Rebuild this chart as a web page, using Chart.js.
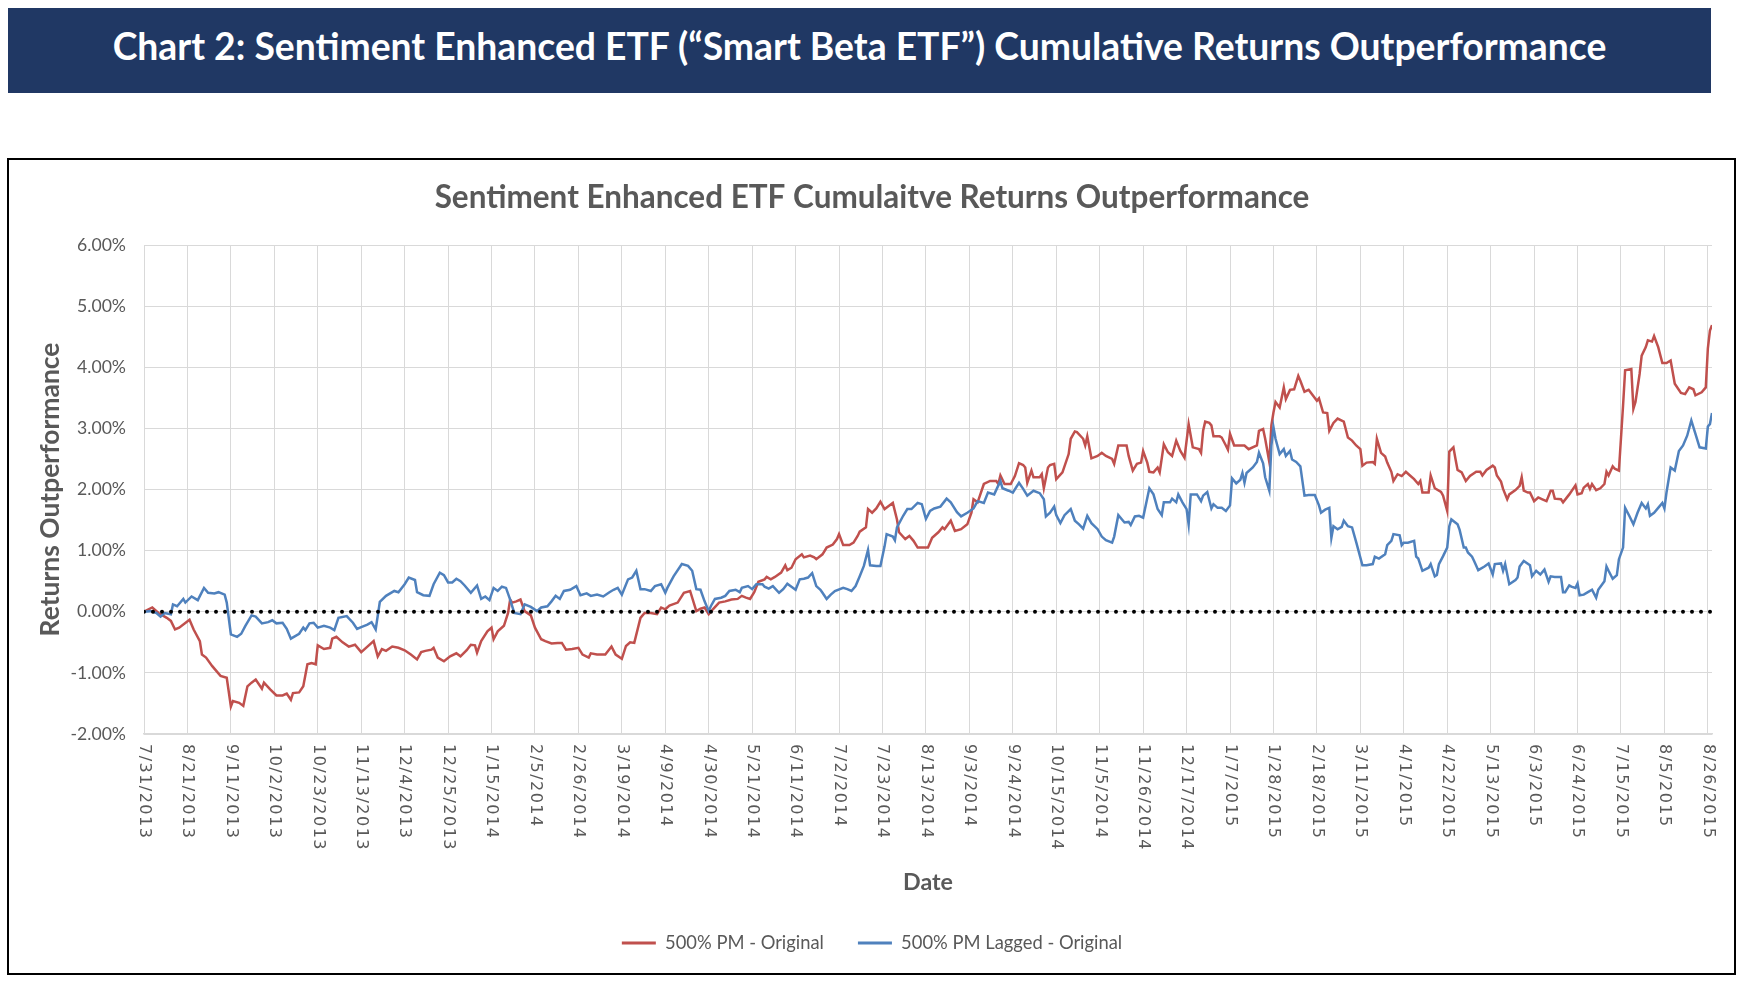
<!DOCTYPE html>
<html>
<head>
<meta charset="utf-8">
<script src="https://cdn.jsdelivr.net/npm/chart.js@4.4.1/dist/chart.umd.min.js"></script>
<style>
html,body{margin:0;padding:0;background:#fff;width:1746px;height:986px;overflow:hidden;}
#banner{position:absolute;left:8px;top:8px;width:1703px;height:85px;background:#203864;display:flex;align-items:center;justify-content:center;}
#bannerText{position:relative;top:-5px;color:#fff;font-family:Lato;font-weight:bold;white-space:nowrap;}
#frame{position:absolute;left:7px;top:158px;width:1725px;height:813px;border:2px solid #000;}
#frame canvas{display:block;}
</style>
</head>
<body>
<div id="banner"><span id="bannerText"></span></div>
<div id="frame"><canvas id="c" width="1725" height="813"></canvas></div>
<script>
// ---------------- data ----------------
const bannerTitle = 'Chart 2: Sentiment Enhanced ETF (\u201CSmart Beta ETF\u201D) Cumulative Returns Outperformance';
const chartTitle = 'Sentiment Enhanced ETF Cumulaitve Returns Outperformance';
const yAxisTitle = 'Returns Outperformance';
const xAxisTitle = 'Date';
const seriesNames = ['500% PM - Original', '500% PM Lagged - Original'];
const startDate = '7/31/2013';
const endDate = '8/28/2015';
const xTickLabels = ['7/31/2013','8/21/2013','9/11/2013','10/2/2013','10/23/2013','11/13/2013','12/4/2013','12/25/2013',
  '1/15/2014','2/5/2014','2/26/2014','3/19/2014','4/9/2014','4/30/2014','5/21/2014','6/11/2014','7/2/2014','7/23/2014',
  '8/13/2014','9/3/2014','9/24/2014','10/15/2014','11/5/2014','11/26/2014','12/17/2014','1/7/2015','1/28/2015',
  '2/18/2015','3/11/2015','4/1/2015','4/22/2015','5/13/2015','6/3/2015','6/24/2015','7/15/2015','8/5/2015','8/26/2015'];
const yMin = -2, yMax = 6, yStep = 1; // percent

// days after start date
const pmOriginalDays = [
  0,4,7,11,13,15,17,22,24,27,
  28,30,33,37,40,42,43,46,48,50,
  52,54,57,58,61,64,67,69,71,72,
  75,77,79,81,83,84,87,90,91,93,
  96,99,102,104,105,108,111,113,115,117,
  120,123,126,129,132,134,136,139,140,142,
  145,148,151,153,156,158,160,161,163,166,
  168,169,171,174,176,177,178,180,182,184,
  187,189,192,194,197,200,202,204,207,210,
  212,215,216,219,223,226,228,231,233,235,
  237,240,242,245,248,250,252,254,258,261,
  264,267,269,271,273,275,278,281,284,287,
  289,291,293,295,297,300,301,303,305,308,
  310,311,313,315,318,319,322,324,325,328,
  330,333,335,336,338,341,343,345,346,349,
  350,352,354,356,358,360,362,364,365,368,
  370,372,374,376,379,381,384,386,387,390,
  392,395,398,400,401,403,406,409,412,413,
  414,416,419,421,423,425,426,427,429,430,
  433,434,435,437,438,440,441,444,447,448,
  450,451,454,455,456,458,461,463,465,468,
  469,471,475,476,478,480,482,483,485,486,
  488,490,491,493,495,497,499,501,503,505,
  507,510,511,512,513,515,516,517,520,521,
  523,524,525,527,532,534,538,539,541,542,
  544,545,546,547,549,551,552,554,556,558,
  559,561,563,565,567,568,570,572,573,575,
  577,580,582,584,586,588,589,591,594,595,
  596,598,600,601,603,604,606,608,610,612,
  614,616,617,618,621,622,624,627,628,630,
  631,633,634,635,637,639,641,644,646,647,
  649,652,653,654,656,657,659,660,663,665,
  666,667,669,670,672,674,676,678,680,681,
  682,685,686,689,692,693,695,696,698,699,
  700,702,704,706,707,708,710,711,713,715,
  716,719,720,721,723,724,726,727,729,730,
  732,734,736,738,740,743,745,747,749,750,
  753,755,756,757,758];
const pmOriginalValues = [
  0,0.07,-0.02,-0.10,-0.15,-0.29,-0.26,-0.13,-0.29,-0.48,
  -0.70,-0.75,-0.89,-1.05,-1.08,-1.55,-1.46,-1.49,-1.54,-1.22,
  -1.16,-1.11,-1.26,-1.16,-1.27,-1.37,-1.37,-1.34,-1.44,-1.33,
  -1.32,-1.22,-0.86,-0.84,-0.86,-0.55,-0.61,-0.59,-0.44,-0.41,
  -0.50,-0.57,-0.54,-0.62,-0.66,-0.57,-0.48,-0.73,-0.61,-0.64,
  -0.57,-0.59,-0.63,-0.70,-0.78,-0.66,-0.64,-0.62,-0.59,-0.75,
  -0.81,-0.73,-0.68,-0.73,-0.63,-0.54,-0.55,-0.67,-0.48,-0.32,
  -0.26,-0.45,-0.32,-0.23,-0.02,0.20,0.15,0.17,0.20,0.01,
  -0.06,-0.26,-0.45,-0.48,-0.52,-0.51,-0.51,-0.62,-0.61,-0.59,
  -0.70,-0.75,-0.68,-0.70,-0.70,-0.57,-0.70,-0.77,-0.56,-0.50,
  -0.51,-0.10,-0.02,-0.02,-0.04,0.07,0.04,0.10,0.15,0.31,
  0.34,0.01,0.05,0.07,-0.04,0.04,0.15,0.17,0.20,0.21,
  0.26,0.23,0.21,0.32,0.49,0.53,0.57,0.53,0.57,0.64,
  0.76,0.68,0.72,0.86,0.94,0.89,0.92,0.89,0.86,0.94,
  1.05,1.10,1.19,1.27,1.09,1.09,1.13,1.24,1.31,1.38,
  1.68,1.62,1.69,1.80,1.68,1.73,1.78,1.51,1.30,1.19,
  1.24,1.16,1.05,1.05,1.05,1.21,1.30,1.38,1.35,1.49,
  1.32,1.35,1.43,1.62,1.84,1.79,2.09,2.14,2.14,2.09,
  2.23,2.09,2.09,2.22,2.43,2.40,2.36,2.11,2.31,2.20,
  2.20,2.25,2.02,2.36,2.40,2.42,2.17,2.28,2.58,2.83,
  2.95,2.94,2.83,2.72,2.87,2.51,2.55,2.60,2.55,2.50,
  2.42,2.72,2.72,2.55,2.31,2.42,2.44,2.63,2.44,2.29,
  2.28,2.36,2.28,2.74,2.61,2.55,2.80,2.63,2.52,3.07,
  2.69,2.66,2.60,2.96,3.11,3.09,3.05,2.87,2.87,2.85,
  2.72,2.65,2.91,2.72,2.72,2.66,2.72,2.96,2.99,2.83,
  2.45,3.05,3.26,3.43,3.34,3.67,3.48,3.63,3.64,3.86,
  3.78,3.60,3.63,3.54,3.45,3.49,3.26,3.25,2.96,3.09,
  3.16,3.11,2.85,2.80,2.72,2.66,2.39,2.44,2.45,2.42,
  2.83,2.60,2.54,2.44,2.29,2.14,2.25,2.22,2.29,2.23,
  2.17,2.09,2.14,1.95,1.95,2.23,2.02,1.96,1.90,1.65,
  2.62,2.69,2.50,2.32,2.28,2.14,2.22,2.29,2.29,2.23,
  2.32,2.39,2.36,2.23,2.13,2.01,1.84,1.92,1.99,2.06,
  2.20,1.98,1.95,1.95,1.81,1.87,1.84,1.81,1.98,1.98,
  1.85,1.84,1.79,1.92,2.07,1.92,1.94,2.03,2.09,2.01,
  2.09,1.99,2.02,2.09,2.29,2.23,2.38,2.34,2.31,3.37,
  3.95,3.97,3.32,3.43,3.89,4.19,4.33,4.44,4.42,4.51,
  4.33,4.07,4.07,4.11,3.73,3.58,3.56,3.67,3.64,3.54,
  3.59,3.67,4.31,4.60,4.69];

const pmLaggedDays = [
  0,3,6,8,10,13,14,16,19,20,
  23,26,29,31,34,36,39,40,42,45,
  47,49,52,54,57,60,62,64,67,69,
  71,75,77,78,80,82,84,87,90,92,
  94,98,101,103,105,108,110,112,114,117,
  121,123,126,128,131,132,135,138,140,143,
  145,147,149,151,153,155,158,161,163,165,
  167,169,171,173,175,177,179,182,184,187,
  190,192,195,197,199,201,203,206,209,211,
  214,216,219,222,225,227,229,231,234,236,
  238,240,242,245,247,250,252,253,256,260,
  263,265,267,269,271,273,274,276,279,281,
  283,286,288,289,292,294,296,299,300,302,
  304,307,309,311,313,315,317,319,321,323,
  325,327,328,330,332,334,338,340,342,344,
  346,348,350,351,354,356,358,359,362,363,
  364,367,369,371,374,376,378,380,382,385,
  388,390,393,395,398,401,403,406,408,411,
  414,415,418,420,423,425,427,430,433,435,
  436,438,440,441,443,445,448,450,452,454,
  456,458,461,463,465,468,469,471,474,476,
  477,479,481,483,486,488,490,492,493,496,
  497,499,500,502,504,505,506,509,511,512,
  514,516,517,519,521,523,525,526,528,530,
  531,532,533,536,538,539,541,542,544,545,
  546,547,549,551,552,554,555,557,559,561,
  563,566,568,569,571,573,574,575,577,579,
  580,582,584,586,589,591,594,595,597,600,
  601,603,604,607,608,609,611,614,615,616,
  618,621,622,624,625,626,628,630,631,632,
  635,636,638,639,640,642,643,645,648,650,
  652,653,656,657,658,660,663,664,665,667,
  670,671,673,675,677,679,680,682,685,686,
  687,689,690,692,693,694,696,698,700,702,
  703,706,707,708,710,712,713,715,716,718,
  720,722,724,726,727,728,730,732,734,735,
  736,738,740,742,744,746,748,750,752,755,
  756,757,758];
const pmLaggedValues = [
  0,0.01,-0.02,-0.08,-0.02,-0.04,0.12,0.09,0.21,0.15,
  0.25,0.19,0.39,0.31,0.30,0.32,0.28,0.15,-0.37,-0.41,
  -0.36,-0.23,-0.06,-0.08,-0.19,-0.17,-0.14,-0.19,-0.18,-0.28,
  -0.44,-0.36,-0.26,-0.30,-0.19,-0.18,-0.26,-0.23,-0.26,-0.30,
  -0.10,-0.07,-0.18,-0.28,-0.25,-0.21,-0.17,-0.29,0.16,0.26,
  0.34,0.32,0.45,0.56,0.52,0.32,0.27,0.26,0.45,0.64,
  0.60,0.48,0.48,0.54,0.50,0.43,0.31,0.43,0.21,0.25,
  0.19,0.39,0.34,0.41,0.39,0.20,-0.02,-0.04,0.12,0.08,
  0.01,0.07,0.09,0.17,0.26,0.21,0.34,0.36,0.42,0.27,
  0.30,0.26,0.28,0.25,0.32,0.36,0.39,0.28,0.53,0.56,
  0.67,0.37,0.37,0.34,0.42,0.45,0.31,0.39,0.58,0.78,
  0.75,0.67,0.37,0.36,0.17,0.01,0.09,0.21,0.23,0.26,
  0.34,0.36,0.32,0.39,0.42,0.37,0.45,0.45,0.41,0.38,
  0.42,0.31,0.37,0.46,0.41,0.36,0.53,0.54,0.56,0.63,
  0.42,0.36,0.31,0.21,0.28,0.34,0.39,0.37,0.34,0.42,
  0.58,0.75,1.01,0.76,0.75,0.75,1.07,1.27,1.23,1.17,
  1.38,1.57,1.68,1.68,1.78,1.76,1.52,1.65,1.69,1.72,
  1.85,1.79,1.63,1.56,1.62,1.69,1.81,1.78,1.95,1.92,
  2.14,2.02,1.98,1.95,2.11,2.01,1.90,1.98,1.94,1.84,
  1.56,1.62,1.72,1.58,1.45,1.58,1.68,1.49,1.43,1.36,
  1.57,1.45,1.35,1.23,1.17,1.13,1.23,1.58,1.46,1.47,
  1.42,1.56,1.57,1.54,2.02,1.92,1.68,1.58,1.79,1.79,
  1.85,1.79,1.92,1.79,1.68,1.43,1.92,1.92,1.81,1.90,
  1.96,1.69,1.76,1.70,1.70,1.65,1.74,2.18,2.10,2.16,
  2.27,2.11,2.27,2.36,2.45,2.60,2.43,2.20,1.98,2.72,
  3.02,2.83,2.58,2.66,2.55,2.63,2.49,2.45,2.38,1.90,
  1.91,1.91,1.74,1.62,1.67,1.70,1.21,1.40,1.35,1.39,
  1.49,1.40,1.38,1.14,0.76,0.76,0.78,0.90,0.87,0.94,
  1.09,1.16,1.27,1.25,1.09,1.13,1.13,1.16,0.90,0.87,
  0.67,0.72,0.78,0.58,0.60,0.78,0.91,1.05,1.40,1.51,
  1.43,1.34,1.05,1.05,0.97,0.90,0.83,0.68,0.74,0.79,
  0.61,0.78,0.79,0.67,0.78,0.45,0.52,0.56,0.74,0.83,
  0.76,0.58,0.67,0.61,0.69,0.49,0.58,0.57,0.57,0.32,
  0.32,0.43,0.41,0.39,0.46,0.27,0.28,0.32,0.36,0.23,
  0.36,0.50,0.74,0.67,0.54,0.60,0.86,1.05,1.70,1.57,
  1.43,1.62,1.78,1.69,1.76,1.57,1.62,1.70,1.78,1.69,
  1.95,2.36,2.31,2.63,2.72,2.88,3.13,2.91,2.69,2.67,
  3.03,3.07,3.25];

// ---------------- helpers ----------------
function dayOf(label) {
  const p = label.split('/').map(Number);
  const s = startDate.split('/').map(Number);
  return Math.round((Date.UTC(p[2], p[0] - 1, p[1]) - Date.UTC(s[2], s[0] - 1, s[1])) / 86400000);
}
function toPoints(days, vals) {
  const n = Math.min(days.length, vals.length);
  const out = [];
  for (let i = 0; i < n; i++) out.push({x: days[i], y: vals[i]});
  return out;
}
const mctx = document.createElement('canvas').getContext('2d');
function fitSize(text, weight, target, family) {
  mctx.font = weight + ' 100px ' + (family || 'Lato');
  return 100 * target / mctx.measureText(text).width;
}

// ---------------- styling / layout ----------------
const TEXT = '#595959';
const GRID = '#D9D9D9';
const RED = '#C0504D';
const BLUE = '#4F81BD';
const FRAME_W = 1725, FRAME_H = 813;
const PLOT = {left: 135, right: 1703, top: 85, bottom: 574};
const PAD_LEFT = 23;

const bannerSize = fitSize(bannerTitle, 'bold', 1495);
const titleSize = fitSize(chartTitle, 'bold', 875);
const yTitleSize = fitSize(yAxisTitle, 'bold', 294);
const dateSize = fitSize(xAxisTitle, 'bold', 50);
const legendSize = fitSize(seriesNames[0], 'normal', 159);
const yTickSize = fitSize('6.00%', 'normal', 49);
const xTickSize = 16;
mctx.font = xTickSize + 'px "DejaVu Sans"';
const xTickSpacing = Math.max(0, (107 - mctx.measureText('10/23/2013').width) / 10);

document.getElementById('bannerText').textContent = bannerTitle;
document.getElementById('bannerText').style.fontSize = bannerSize + 'px';

const legendPad = 34;
const layoutBottom = FRAME_H - 10 - legendSize / 2 - 783;
const legendTop = FRAME_H - layoutBottom - legendSize - legendPad - 10;
const xScaleHeight = legendTop - PLOT.bottom;

const xLabelPlugin = {
  id: 'xLabels',
  afterDraw(chart) {
    const xs = chart.scales.x, ctx = chart.ctx;
    ctx.save();
    ctx.font = xTickSize + 'px "DejaVu Sans"';
    ctx.fillStyle = TEXT;
    try { ctx.letterSpacing = xTickSpacing + 'px'; } catch (e) {}
    ctx.textAlign = 'left';
    ctx.textBaseline = 'middle';
    xTickLabels.forEach(lab => {
      const px = xs.getPixelForValue(dayOf(lab));
      ctx.save();
      ctx.translate(px, chart.chartArea.bottom + 10);
      ctx.rotate(Math.PI / 2);
      ctx.fillText(lab, 0, 0);
      ctx.restore();
    });
    ctx.restore();
  }
};

Chart.defaults.font.family = 'Lato';
Chart.defaults.color = TEXT;

new Chart(document.getElementById('c'), {
  type: 'line',
  data: {
    datasets: [
      {label: seriesNames[0], data: toPoints(pmOriginalDays, pmOriginalValues), borderColor: RED, backgroundColor: RED,
       borderWidth: 2.5, pointRadius: 0, tension: 0, order: 2},
      {label: seriesNames[1], data: toPoints(pmLaggedDays, pmLaggedValues), borderColor: BLUE, backgroundColor: BLUE,
       borderWidth: 2.5, pointRadius: 0, tension: 0, order: 1},
      {label: 'zero', data: [{x: 0, y: 0}, {x: dayOf(endDate), y: 0}], borderColor: '#000', backgroundColor: '#000',
       borderWidth: 4, borderDash: [0, 9], borderCapStyle: 'round', pointRadius: 0, order: 0}
    ]
  },
  options: {
    responsive: false,
    animation: false,
    devicePixelRatio: 1,
    layout: {padding: {left: PAD_LEFT, right: FRAME_W - PLOT.right, top: 0, bottom: layoutBottom}},
    plugins: {
      tooltip: {enabled: false},
      title: {
        display: true, text: chartTitle, color: TEXT,
        font: {family: 'Lato', size: titleSize, weight: 'bold', lineHeight: 1.2},
        padding: {top: 38 - 0.6 * titleSize, bottom: PLOT.top - 38 - 0.6 * titleSize}
      },
      legend: {
        display: true, position: 'bottom',
        labels: {
          color: TEXT, font: {family: 'Lato', size: legendSize},
          boxWidth: 34, boxHeight: 3, padding: legendPad,
          filter: item => item.datasetIndex < 2,
          sort: (a, b) => a.datasetIndex - b.datasetIndex,
          generateLabels(chart) {
            const items = Chart.defaults.plugins.legend.labels.generateLabels(chart);
            items.forEach(it => { it.fillStyle = it.strokeStyle; it.lineWidth = 0; it.lineDash = []; });
            return items;
          }
        }
      }
    },
    scales: {
      x: {
        type: 'linear', min: 0, max: dayOf(endDate),
        afterBuildTicks(scale) { scale.ticks = xTickLabels.map(l => ({value: dayOf(l)})); },
        afterFit(scale) { scale.height = xScaleHeight; },
        ticks: {display: false},
        grid: {color: GRID, lineWidth: 1, drawTicks: false},
        border: {display: true, color: GRID, width: 1.5},
        title: {display: true, text: xAxisTitle, color: TEXT,
                font: {family: 'Lato', size: dateSize, weight: 'bold', lineHeight: 1.2},
                padding: {top: 0, bottom: legendTop - 722 - 0.6 * dateSize}}
      },
      y: {
        type: 'linear', min: yMin, max: yMax,
        afterFit(scale) { scale.width = PLOT.left - PAD_LEFT; },
        ticks: {stepSize: yStep, color: TEXT, padding: 18, font: {family: 'Lato', size: yTickSize},
                callback: v => v.toFixed(2) + '%'},
        grid: {color: GRID, lineWidth: 1, drawTicks: false},
        border: {display: false},
        title: {display: true, text: yAxisTitle, color: TEXT,
                font: {family: 'Lato', size: yTitleSize, weight: 'bold', lineHeight: 1.2},
                padding: {top: 41 - PAD_LEFT - 0.6 * yTitleSize, bottom: 0}}
      }
    }
  },
  plugins: [xLabelPlugin]
});
</script>
</body>
</html>
